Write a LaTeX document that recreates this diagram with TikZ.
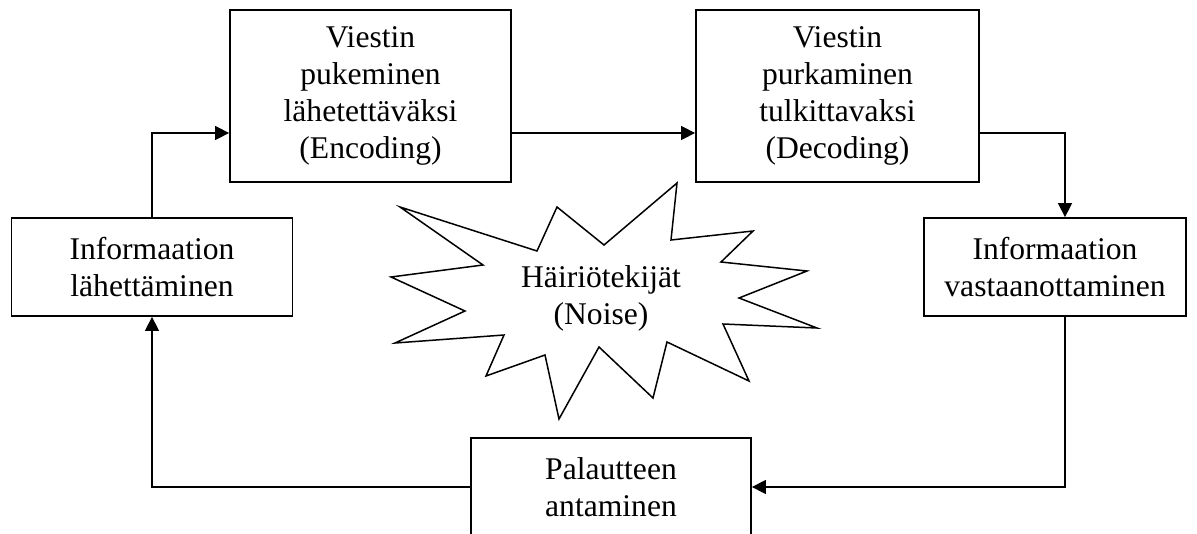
\documentclass[tikz,border=0pt]{standalone}
\usepackage{fontspec}
\setmainfont{Liberation Serif}
\usetikzlibrary{arrows.meta}
\tikzset{
	box/.style={draw, line width=1.8pt, inner sep=0pt, align=center, font=\fontsize{31.6pt}{37pt}\selectfont},
	conn/.style={line width=1.5pt},
	arr/.style={conn, -{Triangle[length=14pt, width=14pt]}}
}

\begin{document}
\begin{tikzpicture}[x=1pt, y=-1pt]
			%%%%% START %%%%%
			
			\useasboundingbox (0, 0) rectangle (1197, 533);
			
			\node[box, minimum width=281pt, minimum height=98pt] (send) at (152, 267) {Informaation\\lähettäminen};
			\node[box, minimum width=281pt, minimum height=172pt] (enc) at (370.5, 96) {Viestin\\pukeminen\\lähetettäväksi\\(Encoding)};
			\node[box, minimum width=283pt, minimum height=172pt] (dec) at (837.5, 96) {Viestin\\purkaminen\\tulkittavaksi\\(Decoding)};
			\node[box, minimum width=262pt, minimum height=98pt] (recv) at (1055, 267) {Informaation\\vastaanottaminen};
			\node[box, minimum width=280pt, minimum height=98pt] (fb) at (611, 487) {Palautteen\\antaminen};
			
			\draw[line width=1.5pt] (400, 207) -- (537, 251) -- (557, 207) -- (604, 245) -- (677, 183) -- (671, 240)
				-- (753, 231) -- (721, 262) -- (807, 271) -- (739, 298) -- (817, 328) -- (723, 324)
				-- (749, 381) -- (667, 342) -- (653, 398) -- (599, 347) -- (559, 419) -- (545, 355)
				-- (486, 376) -- (504, 335) -- (395, 343) -- (465, 311) -- (391, 277) -- (483, 265) -- cycle;
			\node[box, draw=none] (noise) at (601, 298) {Häiriötekijät\\(Noise)};
			
			\draw[arr] (send.north) |- (enc.west |- 0, 133);
			\draw[arr] (enc.east |- 0, 133) -- (dec.west |- 0, 133);
			\draw[arr] (dec.east |- 0, 133) -| ([xshift=10pt]recv.north);
			\draw[arr] ([xshift=10pt]recv.south) |- (fb.east);
			\draw[arr] (fb.west) -| (send.south);
			
			%%%%% END %%%%%
		\end{tikzpicture}
\end{document}
